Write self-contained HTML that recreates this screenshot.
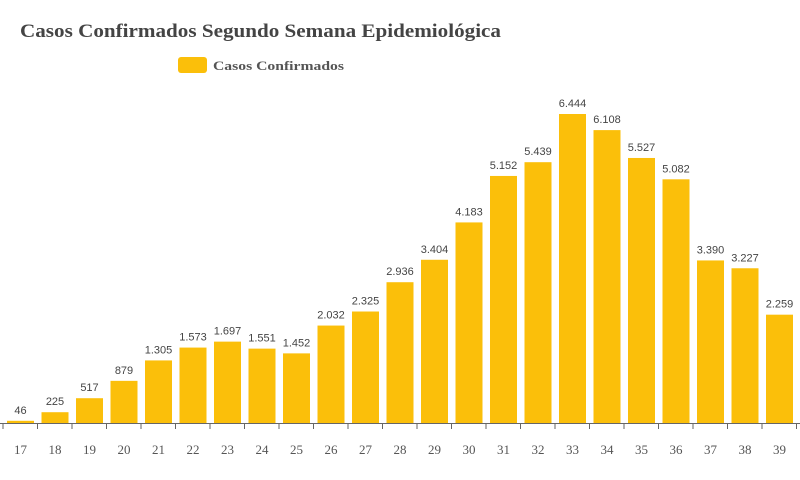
<!DOCTYPE html>
<html><head><meta charset="utf-8"><style>
body{margin:0;background:#fff;}
svg{display:block;}
</style></head><body>
<svg width="800" height="480" xmlns="http://www.w3.org/2000/svg">
<text x="20" y="37" font-family="Liberation Serif, serif" font-weight="bold" font-size="19" fill="#444" textLength="481" lengthAdjust="spacingAndGlyphs">Casos Confirmados Segundo Semana Epidemiológica</text>
<rect x="178" y="57" width="29" height="16" rx="3" fill="#fbbf0a"/>
<text x="213" y="70" font-family="Liberation Serif, serif" font-weight="bold" font-size="13" fill="#555" textLength="131" lengthAdjust="spacingAndGlyphs">Casos Confirmados</text>
<g id="bars" font-family="Liberation Sans, sans-serif" font-size="11" fill="#444" text-anchor="middle"></g>
<line x1="0" y1="423.5" x2="800" y2="423.5" stroke="#666" stroke-width="1"/>
<g id="ticks" stroke="#666"></g>
<g id="labels" font-family="Liberation Serif, serif" font-size="13" fill="#555" text-anchor="middle"></g>
<script>
var v=[46,225,517,879,1305,1573,1697,1551,1452,2032,2325,2936,3404,4183,5152,5439,6444,6108,5527,5082,3390,3227,2259];
var ns="http://www.w3.org/2000/svg",b=document.getElementById('bars'),t=document.getElementById('ticks'),l=document.getElementById('labels');
var s=309/6444;
v.forEach(function(d,i){
 var x0=3+34.5*i,h=d*s;
 var r=document.createElementNS(ns,'rect');r.setAttribute('x',x0+4);r.setAttribute('y',423-h);r.setAttribute('width',27);r.setAttribute('height',h);r.setAttribute('fill','#fbbf0a');b.appendChild(r);
 var tx=document.createElementNS(ns,'text');tx.setAttribute('x',x0+17.5);tx.setAttribute('y',423-h-7);
 if(d>=1000){tx.textContent=Math.floor(d/1000)+'.'+String(d%1000).padStart(3,'0');}else tx.textContent=d;
 b.appendChild(tx);
 var ln=document.createElementNS(ns,'line');ln.setAttribute('x1',x0);ln.setAttribute('x2',x0);ln.setAttribute('y1',423);ln.setAttribute('y2',429);t.appendChild(ln);
 var lb=document.createElementNS(ns,'text');lb.setAttribute('x',x0+17.5);lb.setAttribute('y',454);lb.textContent=17+i;l.appendChild(lb);
});
var ln=document.createElementNS(ns,'line');ln.setAttribute('x1',796.5);ln.setAttribute('x2',796.5);ln.setAttribute('y1',423);ln.setAttribute('y2',429);t.appendChild(ln);
</script>
</svg>
</body></html>
